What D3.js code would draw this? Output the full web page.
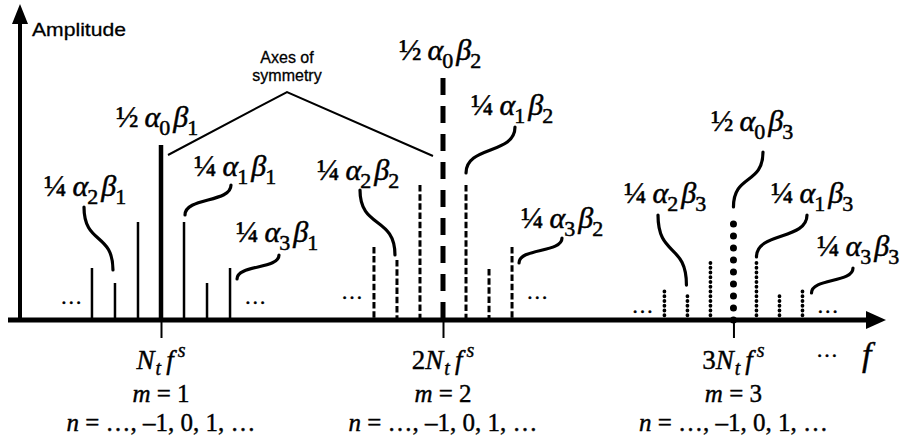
<!DOCTYPE html>
<html>
<head>
<meta charset="utf-8">
<script src="https://cdn.jsdelivr.net/npm/d3@7"></script>
<style>
  html, body { margin: 0; padding: 0; background: #fff; }
  svg { display: block; }
</style>
</head>
<body>
<svg id="chart" width="903" height="444"></svg>
<script>
// Harmonic centres m·Nt·fs, expressed in units of Nt·fs
const harmonics = [1, 2, 3.03];
const harmonicIndex = [1, 2, 3];
// Sideband orders n around each harmonic, and their spacing fs (units of Nt·fs)
const sidebandOrders = [-3, -2, -1, 0, 1, 2, 3];
const sidebandStep = 0.0816;
// Amplitudes (relative, 0–100) of the sidebands n = -3 … 3 for each harmonic
const ampM1 = [21.5, 15.3, 40.5, 72.3, 40.5, 15.3, 21.5];
const ampM2 = [30.2, 24.8, 55.8, 100, 55.8, 21.1, 30.2];
const ampM3 = [12.8, 9.9, 23.6, 40.1, 23.6, 9.9, 12.8];
const amplitudes = [ampM1, ampM2, ampM3];

// Component labels: coefficient, alpha index, attached sideband
const labelCoef = ["½", "¼", "¼", "¼"];
const labelAlpha = [0, 1, 2, 3];
const labelSideband = [0, 1, -2, 3];

const SERIF = "'Liberation Serif', 'Times New Roman', Times, serif";
const SANS = "'Liberation Sans', Arial, Helvetica, sans-serif";

const svg = d3.select("#chart");

const x = d3.scaleLinear().domain([1, 2]).range([161, 443]);
const y = d3.scaleLinear().domain([0, 100]).range([320, 78]);
const axisY = y(0);

// line styles per harmonic: solid, dashed, dotted
const styles = [
  { centre: { w: 4.5, dash: null, cap: "butt" }, side: { w: 2.5, dash: null, cap: "butt" }, fromTop: true },
  { centre: { w: 5, dash: "17 11", cap: "butt" }, side: { w: 3, dash: "6.5 2.7", cap: "butt" }, fromTop: true },
  { centre: { w: 7, dash: "0 12", cap: "round" }, side: { w: 3.8, dash: "0 4.75", cap: "round" }, fromTop: false }
];

// spectral lines
harmonics.forEach((h, gi) => {
  const g = svg.append("g");
  sidebandOrders.forEach((n, k) => {
    const st = n === 0 ? styles[gi].centre : styles[gi].side;
    const fx = x(h + n * sidebandStep);
    const top = y(amplitudes[gi][k]);
    const y1 = styles[gi].fromTop ? top : axisY;
    const y2 = styles[gi].fromTop ? axisY : top;
    g.append("line")
      .attr("x1", fx).attr("x2", fx)
      .attr("y1", y1).attr("y2", y2)
      .attr("stroke", "#000")
      .attr("stroke-width", st.w)
      .attr("stroke-linecap", st.cap)
      .attr("stroke-dasharray", st.dash);
  });
});

// frequency axis with ticks at the harmonics
const xAxis = d3.axisBottom(x).tickValues(harmonics).tickSize(18).tickFormat("").tickSizeOuter(0);
const ax = svg.append("g").attr("transform", `translate(0,${axisY})`).call(xAxis);
ax.select(".domain").remove();
ax.selectAll(".tick line").attr("stroke", "#000").attr("stroke-width", 2);

svg.append("line").attr("x1", 8).attr("x2", 870).attr("y1", axisY).attr("y2", axisY)
  .attr("stroke", "#000").attr("stroke-width", 5);
svg.append("path").attr("d", `M886,${axisY} L866,${axisY - 9} L866,${axisY + 9} Z`).attr("fill", "#000");

// amplitude axis
svg.append("line").attr("x1", 20).attr("x2", 20).attr("y1", axisY + 2).attr("y2", 20)
  .attr("stroke", "#000").attr("stroke-width", 4);
svg.append("path").attr("d", "M20,4 L12,24 L28,24 Z").attr("fill", "#000");

svg.append("text").attr("font-family", SANS).attr("x", 32).attr("y", 36)
  .attr("font-size", 19).attr("textLength", 94).attr("lengthAdjust", "spacingAndGlyphs")
  .attr("stroke", "#000").attr("stroke-width", 0.3).text("Amplitude");

// component labels with leader curves
const labelLayout = [
  // harmonic m = 1
  [{ x: 116, y: 127, lead: null },
   { x: 194, y: 176, lead: [231, 185, 1, -7] },
   { x: 44, y: 196, lead: [84, 207, -2, -13] },
   { x: 236, y: 242, lead: [279, 255, 7, 11] }],
  // harmonic m = 2
  [{ x: 399, y: 60, lead: null },
   { x: 471, y: 115, lead: [515, 127, 0, -12] },
   { x: 317, y: 180, lead: [360, 190, -2, -5] },
   { x: 521, y: 228, lead: [562, 238, 7, 16] }],
  // harmonic m = 3
  [{ x: 711, y: 131, lead: [763, 152, 0, -16] },
   { x: 771, y: 203, lead: [807, 215, 0, -6] },
   { x: 624, y: 203, lead: [658, 215, -1, -11] },
   { x: 817, y: 256, lead: [853, 268, 9, 4] }]
];

harmonics.forEach((h, gi) => {
  labelCoef.forEach((coef, li) => {
    const L = labelLayout[gi][li];
    const t = svg.append("text").attr("font-family", SERIF)
      .attr("x", L.x).attr("y", L.y).attr("font-size", 30)
      .attr("stroke", "#000").attr("stroke-width", 0.5);
    t.append("tspan").text(coef);
    t.append("tspan").attr("dx", 6).attr("font-style", "italic").text("α");
    t.append("tspan").attr("dy", 8).attr("dx", -1).attr("font-size", 22).text(labelAlpha[li]);
    t.append("tspan").attr("dx", 3).attr("dy", -8).attr("font-style", "italic").text("β");
    t.append("tspan").attr("dy", 8).attr("dx", -1).attr("font-size", 22).text(harmonicIndex[gi]);

    if (L.lead) {
      const k = sidebandOrders.indexOf(labelSideband[li]);
      const ex = x(h + labelSideband[li] * sidebandStep) + L.lead[2];
      const ey = y(amplitudes[gi][k]) + L.lead[3];
      const [sx, sy] = [L.lead[0], L.lead[1]];
      const my = (sy + ey) / 2;
      const path = `M${sx},${sy} C${sx},${my + (ey - sy) * 0.1} ${ex},${my - (ey - sy) * 0.1} ${ex},${ey}`;
      svg.append("path").attr("d", path).attr("fill", "none")
        .attr("stroke", "#000").attr("stroke-width", 3.2).attr("stroke-linecap", "round");
    }
  });
});

// axes of symmetry callout
svg.append("polyline")
  .attr("points", `${x(harmonics[0]) + 7},155 287,92 ${x(harmonics[1]) - 10},156`)
  .attr("fill", "none").attr("stroke", "#000").attr("stroke-width", 2);
const sym = svg.append("text").attr("font-family", SANS).attr("font-size", 16).attr("text-anchor", "middle")
  .attr("stroke", "#000").attr("stroke-width", 0.3);
sym.append("tspan").attr("x", 287).attr("y", 63).text("Axes of");
sym.append("tspan").attr("x", 287).attr("y", 81).text("symmetry");

// "more lines" ellipses
const ellipsisPos = [
  [x(harmonics[0] - 3.9 * sidebandStep), 304], [x(harmonics[0] + 4.1 * sidebandStep), 304],
  [x(harmonics[1] - 3.95 * sidebandStep), 299], [x(harmonics[1] + 4.1 * sidebandStep), 299],
  [x(harmonics[2] - 3.95 * sidebandStep), 313], [x(harmonics[2] + 4.1 * sidebandStep), 313]
];
ellipsisPos.forEach(([ex, ey]) => {
  svg.append("text").attr("font-family", SERIF).attr("x", ex).attr("y", ey)
    .attr("font-size", 22).attr("text-anchor", "middle").attr("stroke", "#000").attr("stroke-width", 0.4).text("…");
});

// harmonic annotations under the axis
const prefixes = ["", "2", "3"];
harmonics.forEach((h, gi) => {
  const cx = x(h);
  const t1 = svg.append("text").attr("font-family", SERIF).attr("x", cx).attr("y", 369)
    .attr("font-size", 27).attr("text-anchor", "middle").attr("stroke", "#000").attr("stroke-width", 0.4);
  t1.append("tspan").text(prefixes[gi]);
  t1.append("tspan").attr("font-style", "italic").text("N");
  t1.append("tspan").attr("font-style", "italic").attr("font-size", 20).attr("dy", 6).attr("dx", 1).text("t");
  t1.append("tspan").attr("font-style", "italic").attr("dy", -6).attr("dx", 5).text("f");
  t1.append("tspan").attr("font-style", "italic").attr("font-size", 20).attr("dy", -12).attr("dx", 4).text("s");

  const t2 = svg.append("text").attr("font-family", SERIF).attr("x", cx).attr("y", 402)
    .attr("font-size", 25).attr("text-anchor", "middle").attr("stroke", "#000").attr("stroke-width", 0.4);
  t2.append("tspan").attr("font-style", "italic").text("m");
  t2.append("tspan").text(" = " + harmonicIndex[gi]);

  const t3 = svg.append("text").attr("font-family", SERIF).attr("x", cx).attr("y", 431)
    .attr("font-size", 25).attr("text-anchor", "middle").attr("stroke", "#000").attr("stroke-width", 0.4);
  t3.append("tspan").attr("font-style", "italic").text("n");
  t3.append("tspan").text(" = …, –1, 0, 1, …");
});

svg.append("text").attr("font-family", SERIF).attr("x", 827).attr("y", 357)
  .attr("font-size", 22).attr("text-anchor", "middle").attr("stroke", "#000").attr("stroke-width", 0.4).text("…");
svg.append("text").attr("font-family", SERIF).attr("x", 862).attr("y", 366)
  .attr("font-size", 34).attr("font-style", "italic").attr("stroke", "#000").attr("stroke-width", 0.4).text("f");
</script>
</body>
</html>
